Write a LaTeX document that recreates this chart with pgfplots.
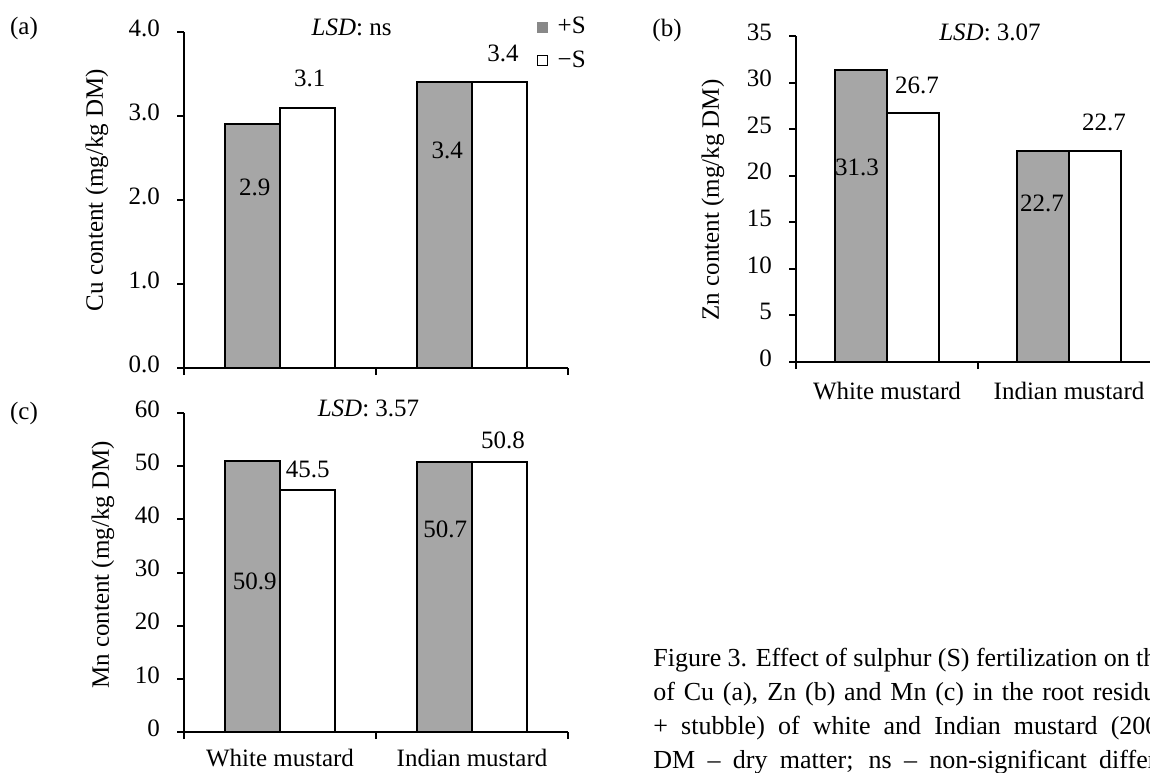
\documentclass[border=0pt]{standalone}
\usepackage{fontspec}
\setmainfont{Liberation Serif}
\usepackage{pgfplots}
\pgfplotsset{compat=1.18}
\definecolor{barg}{RGB}{166,166,166}
\definecolor{legg}{RGB}{136,136,136}
\newcommand{\fs}{\fontsize{12.5}{15}\selectfont}
\newcommand{\capfs}{\fontsize{13}{15.5}\selectfont}
\pgfplotsset{
  panel/.style={
    scale only axis,
    xmin=0, xmax=2, ymin=0,
    axis x line=bottom, axis y line=left,
    axis line style={-, line width=1pt, black},
    xtick={0,1,2}, xticklabels={},
    tick align=outside,
    major tick length=3.5pt,
    tick style={black, line width=1pt},
    yticklabel style={xshift=-5pt, yshift=2pt},
    clip=false,
    font=\fs,
    /pgf/number format/assume math mode=true,
  },
  catlabels/.style={
    extra x ticks={0.5,1.5},
    extra x tick labels={White mustard, Indian mustard},
    extra x tick style={major tick length=0pt, xticklabel style={yshift=#1}},
  },
  catlabels/.default={-6pt},
  sbar/.style={ybar, bar width=0.284, bar shift=0pt, fill=barg, draw=black, line width=1pt, forget plot},
  nbar/.style={ybar, bar width=0.284, bar shift=0pt, fill=white, draw=black, line width=1pt, forget plot},
}
\begin{document}
\begin{tikzpicture}
\path[use as bounding box] (0,0) rectangle (575pt,386pt);
\clip (0,0) rectangle (575pt,386pt);

% ---------- (a) Cu ----------
\begin{axis}[panel, at={(92pt,202pt)}, anchor=south west,
  width=192pt, height=168pt, ymax=4, ytick={0,1,2,3,4},
  yticklabel style={/pgf/number format/.cd,fixed,fixed zerofill,precision=1},
  legend style={at={(axis description cs:0.918,1.057)}, anchor=north west,
    draw=none, fill=none, inner sep=0pt, row sep=3pt, font=\fs,
    cells={anchor=west},
    /tikz/every odd column/.append style={column sep=3pt}},
  legend image code/.code={\draw[#1] (0pt,-2.5pt) rectangle (5pt,2.5pt);},
]
\addplot[sbar] coordinates {(0.358,2.9) (1.358,3.4)};
\addplot[nbar] coordinates {(0.642,3.1) (1.642,3.4)};
\addlegendimage{fill=legg, draw=legg, line width=0.4pt}
\addlegendentry{+S}
\addlegendimage{fill=white, draw=black, line width=0.4pt}
\addlegendentry{−S}
\node at (axis cs:0.369,2.155) {2.9};
\node at (axis cs:0.655,3.45) {3.1};
\node at (axis cs:1.371,2.595) {3.4};
\node at (axis cs:1.662,3.75) {3.4};
\node at (axis cs:0.873,4.06) {\textit{LSD}: ns};
\end{axis}

% ---------- (b) Zn ----------
\begin{axis}[panel, catlabels=-6.5pt, at={(398pt,205pt)}, anchor=south west,
  width=182pt, height=163pt, ymax=35, ytick={0,5,...,35}]
\addplot[sbar] coordinates {(0.358,31.3) (1.358,22.7)};
\addplot[nbar] coordinates {(0.642,26.7) (1.642,22.7)};
\node at (axis cs:0.335,20.94) {31.3};
\node at (axis cs:0.665,29.74) {26.7};
\node at (axis cs:1.352,17.07) {22.7};
\node at (axis cs:1.692,25.77) {22.7};
\node at (axis cs:1.066,35.43) {\textit{LSD}: 3.07};
\end{axis}

% ---------- (c) Mn ----------
\begin{axis}[panel, catlabels=-5pt, at={(92pt,20pt)}, anchor=south west,
  width=192pt, height=159.5pt, ymax=60, ytick={0,10,...,60}]
\addplot[sbar] coordinates {(0.358,50.9) (1.358,50.7)};
\addplot[nbar] coordinates {(0.642,45.5) (1.642,50.8)};
\node at (axis cs:0.369,28.40) {50.9};
\node at (axis cs:0.644,49.46) {45.5};
\node at (axis cs:1.361,38.18) {50.7};
\node at (axis cs:1.662,54.92) {50.8};
\node at (axis cs:0.961,60.94) {\textit{LSD}: 3.57};
\end{axis}

% panel letters and axis titles
\node[font=\fs] at (12pt,372pt) {(a)};
\node[font=\fs] at (333.5pt,371pt) {(b)};
\node[font=\fs] at (12pt,179.5pt) {(c)};
\node[font=\fs, rotate=90] at (48.5pt,291pt) {Cu content (mg/kg DM)};
\node[font=\fs, rotate=90] at (356.5pt,286pt) {Zn content (mg/kg DM)};
\node[font=\fs, rotate=90] at (51.5pt,103.5pt) {Mn content (mg/kg DM)};

% caption (cut at the right edge as in the reference)
\node[font=\capfs, anchor=base west, inner sep=0pt] at (326.5pt,53pt) {\makebox[251.5pt][s]{Figure 3. Effect of sulphur (S) fertilization on th}};
\node[font=\capfs, anchor=base west, inner sep=0pt] at (326.5pt,36pt) {\makebox[251.5pt][s]{of Cu (a), Zn (b) and Mn (c) in the root residu}};
\node[font=\capfs, anchor=base west, inner sep=0pt] at (326.5pt,19pt) {\makebox[252.5pt][s]{+ stubble) of white and Indian mustard (200}};
\node[font=\capfs, anchor=base west, inner sep=0pt] at (326.5pt,2pt) {\makebox[251.5pt][s]{DM – dry matter; ns – non-significant differ}};
\end{tikzpicture}
\end{document}
